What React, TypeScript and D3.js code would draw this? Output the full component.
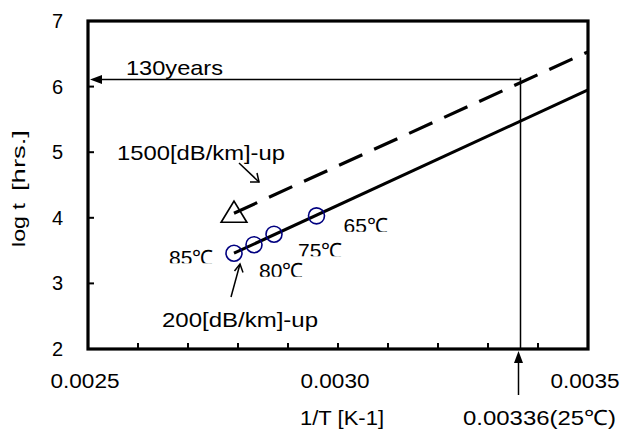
import React from "react";
import * as d3 from "d3";

// ---- data ----
const tempLabels = ["85℃", "80℃", "75℃", "65℃"];
const invT = [0.002792, 0.002832, 0.002872, 0.002957];
const logT200 = [3.46, 3.59, 3.75, 4.03];

const fitX = [0.002792, 0.0035];
const fit200 = [3.46, 5.95];
const fit1500 = [4.07, 6.53];
const triX = [0.002792];
const triY = [4.07];

const xTickLabels = [0.0025, 0.003, 0.0035];
const xMinorTicks = [0.0026, 0.0027, 0.0028, 0.0029, 0.003, 0.0031, 0.0032, 0.0033, 0.0034];
const yTicks = [2, 3, 4, 5, 6, 7];

const life25X = 0.003365; // 0.00336 (25℃)
const life130Y = 6.11; // 130 years

// label offsets relative to points (px)
const labelOffsets: [number, number, number][] = [
  [-65, 12, 10],
  [5, 33, 32],
  [24, 24, 22],
  [27, 17, 16],
];

const W = 621;
const H = 432;
const FONT = "'Liberation Sans', Arial, Helvetica, sans-serif";

export default function App() {
  const x = d3.scaleLinear().domain([0.0025, 0.0035]).range([88, 588]);
  const y = d3.scaleLinear().domain([2, 7]).range([349, 21]);
  const line = d3
    .line<[number, number]>()
    .x((d) => x(d[0]))
    .y((d) => y(d[1]));

  const solid = fitX.map((v, i) => [v, fit200[i]] as [number, number]);
  const dashed = fitX.map((v, i) => [v, fit1500[i]] as [number, number]);

  const vx = x(life25X);
  const hy = y(life130Y);

  const tri = d3.symbol().type(d3.symbolTriangle).size(260)();

  return (
    <svg
      width={W}
      height={H}
      viewBox={`0 0 ${W} ${H}`}
      style={{ position: "absolute", left: 0, top: 0, background: "#fff" }}
      fontFamily={FONT}
    >
      <defs>
        {invT.map((v, i) => (
          <clipPath id={`clip${i}`} key={i}>
            <rect
              x={x(v) + labelOffsets[i][0] - 5}
              y={y(logT200[i]) + labelOffsets[i][1] - 30}
              width={80}
              height={30 - (labelOffsets[i][1] - labelOffsets[i][2])}
            />
          </clipPath>
        ))}
      </defs>
      <rect width={W} height={H} fill="#fff" />

      {/* minor ticks on x axis (inward) */}
      {xMinorTicks.map((t) => (
        <line key={t} x1={x(t)} x2={x(t)} y1={y(2)} y2={y(2) - 6} stroke="#000" strokeWidth={2} />
      ))}
      {/* y ticks inward */}
      {yTicks.map((t) => (
        <line key={t} x1={x(0.0025)} x2={x(0.0025) + 6} y1={y(t)} y2={y(t)} stroke="#000" strokeWidth={2} />
      ))}

      {/* 130 years horizontal arrow */}
      <line x1={vx} x2={x(0.0025) + 12} y1={hy} y2={hy} stroke="#000" strokeWidth={1.5} />
      <path d={`M${x(0.0025) + 2},${hy} L${x(0.0025) + 14},${hy - 4.5} L${x(0.0025) + 14},${hy + 4.5} Z`} fill="#000" />
      {/* vertical line at 25C */}
      <line x1={vx} x2={vx} y1={hy - 2} y2={y(2)} stroke="#000" strokeWidth={1.5} />

      {/* bottom arrow */}
      <line x1={vx - 2} x2={vx - 2} y1={395} y2={y(2) + 12} stroke="#000" strokeWidth={1.5} />
      <path d={`M${vx - 2},${y(2) + 2} L${vx - 6.5},${y(2) + 14} L${vx + 2.5},${y(2) + 14} Z`} fill="#000" />

      {/* fit lines */}
      <path d={line(dashed) || ""} fill="none" stroke="#000" strokeWidth={3.2} strokeDasharray="25.5,13" />
      <path d={line(solid) || ""} fill="none" stroke="#000" strokeWidth={3} />

      {/* triangle marker */}
      {triX.map((v, i) => (
        <path
          key={i}
          d={tri || ""}
          transform={`translate(${x(v)},${y(triY[i]) + 2}) scale(1.05,1)`}
          fill="none"
          stroke="#000"
          strokeWidth={1.6}
        />
      ))}

      {/* circles */}
      {invT.map((v, i) => (
        <circle key={i} cx={x(v)} cy={y(logT200[i])} r={8} fill="none" stroke="#000080" strokeWidth={1.6} />
      ))}

      {/* temperature labels */}
      {invT.map((v, i) => (
        <text
          key={i}
          x={x(v) + labelOffsets[i][0]}
          y={y(logT200[i]) + labelOffsets[i][1]}
          fontSize={21}
          clipPath={`url(#clip${i})`}
          fill="#000"
        >
          {tempLabels[i]}
        </text>
      ))}

      {/* axes box */}
      <rect x={x(0.0025)} y={y(7)} width={x(0.0035) - x(0.0025)} height={y(2) - y(7)} fill="none" stroke="#000" strokeWidth={3.2} />

      {/* y tick labels */}
      {yTicks.map((t) => (
        <text key={t} x={63} y={y(t) + 7} textAnchor="end" fontSize={20}>
          {t}
        </text>
      ))}
      {/* x tick labels */}
      {xTickLabels.map((t) => (
        <text key={t} x={x(t) - 3} y={388} textAnchor="middle" fontSize={20} textLength={69} lengthAdjust="spacingAndGlyphs">
          {t.toFixed(4)}
        </text>
      ))}

      {/* axis titles */}
      <text x={300} y={425} fontSize={20} textLength={84} lengthAdjust="spacingAndGlyphs">
        1/T [K-1]
      </text>
      <text transform="translate(25,188) rotate(-90)" fontSize={19} textAnchor="middle">
        <tspan textLength={44} lengthAdjust="spacingAndGlyphs" dx={-59} textAnchor="start">log t</tspan>
        <tspan x={-3} textLength={61} lengthAdjust="spacingAndGlyphs" textAnchor="start">[hrs.]</tspan>
      </text>

      {/* annotations */}
      <text x={126} y={75} fontSize={21} textLength={97} lengthAdjust="spacingAndGlyphs">
        130years
      </text>
      <text x={117} y={160} fontSize={21} textLength={168} lengthAdjust="spacingAndGlyphs">
        1500[dB/km]-up
      </text>
      <text x={162} y={327} fontSize={21} textLength={156} lengthAdjust="spacingAndGlyphs">
        200[dB/km]-up
      </text>
      <text x={463} y={425} fontSize={21} textLength={153} lengthAdjust="spacingAndGlyphs">
        0.00336(25℃)
      </text>

      {/* pointer arrows */}
      <g stroke="#000" strokeWidth={1.5} fill="none">
        <line x1={239} y1={163} x2={259} y2={182} />
        <path d="M250,182 L259,182 L257,173" />
        <line x1={231} y1={297} x2={240} y2={264} />
        <path d="M234.5,271 L240,264 L243,272.5" />
      </g>
    </svg>
  );
}
